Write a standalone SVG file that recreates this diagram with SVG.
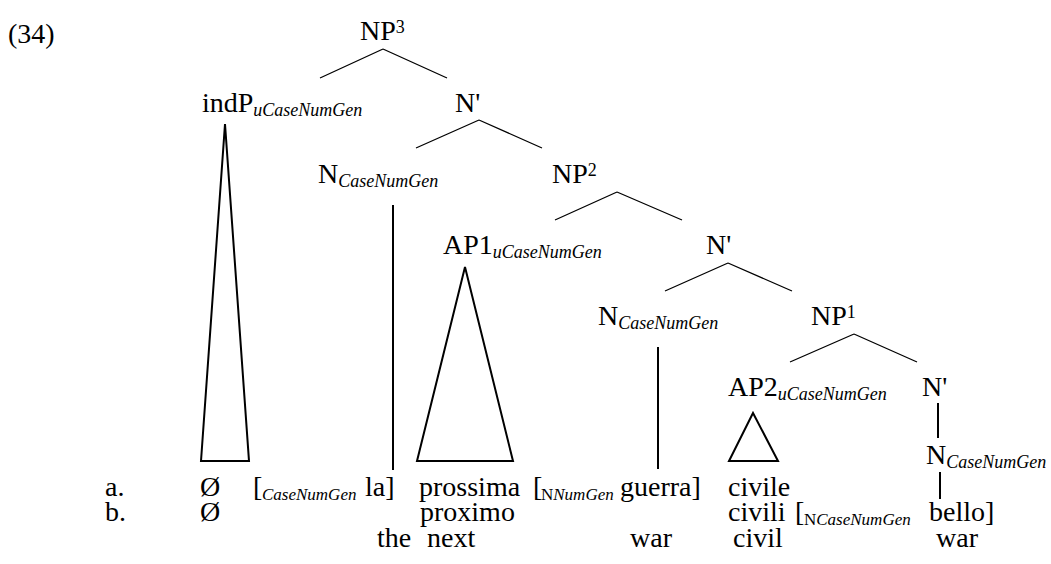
<svg xmlns="http://www.w3.org/2000/svg" width="1051" height="564" viewBox="0 0 1051 564">
<style>
text{font-family:"Liberation Serif","Times New Roman",serif;font-size:28px;fill:#000}
.sub{font-size:18px;font-style:italic}
.rs{font-size:17px;font-style:italic}
.rsu{font-size:17px;font-style:normal}
.sup{font-size:18px}
.br{stroke:#000;stroke-width:1.3;fill:none}
.vl{stroke:#000;stroke-width:2;fill:none}
.tri{stroke:#000;stroke-width:2;fill:none;stroke-linejoin:miter}
</style>
<rect width="1051" height="564" fill="#fff"/>
<g id="connectors">
<path class="br" d="M383,49 L320,78 M383,49 L447,78"/>
<path class="br" d="M479,120 L416,148 M479,120 L542,148"/>
<path class="br" d="M617,192 L555,220 M617,192 L682,220"/>
<path class="br" d="M728,263 L665,291 M728,263 L792,291"/>
<path class="br" d="M854,334 L790,362 M854,334 L917,362"/>
<line class="vl" x1="393" y1="205" x2="393" y2="470"/>
<line class="vl" x1="658" y1="347" x2="658" y2="469"/>
<line class="vl" x1="938" y1="403" x2="938" y2="438"/>
<line class="vl" x1="940" y1="472" x2="940" y2="499"/>
<polygon class="tri" points="225,124 201,461 249,461"/>
<polygon class="tri" points="465,267 417,461 513,461"/>
<polygon class="tri" points="753,413 729,461 778,461"/>
</g>
<g id="ex-number"><text x="8" y="43">(34)</text></g>
<g id="NP3"><text x="360" y="40">NP<tspan class="sup" dy="-7">3</tspan></text></g>
<g id="indP"><text x="202" y="112">indP<tspan class="sub" dy="4">uCaseNumGen</tspan></text></g>
<g id="Nbar1"><text x="455" y="112">N'</text></g>
<g id="N1"><text x="318" y="183">N<tspan class="sub" dy="4">CaseNumGen</tspan></text></g>
<g id="NP2"><text x="552" y="183">NP<tspan class="sup" dy="-7">2</tspan></text></g>
<g id="AP1"><text x="443" y="254">AP1<tspan class="sub" dy="4">uCaseNumGen</tspan></text></g>
<g id="Nbar2"><text x="706" y="254">N'</text></g>
<g id="N2"><text x="598" y="325">N<tspan class="sub" dy="4">CaseNumGen</tspan></text></g>
<g id="NP1"><text x="811" y="325">NP<tspan class="sup" dy="-7">1</tspan></text></g>
<g id="AP2"><text x="728" y="396">AP2<tspan class="sub" dy="4">uCaseNumGen</tspan></text></g>
<g id="Nbar3"><text x="922" y="396">N'</text></g>
<g id="N3"><text x="926" y="464">N<tspan class="sub" dy="4">CaseNumGen</tspan></text></g>
<g id="row-a">
<text x="105" y="496">a.</text>
<text x="200" y="496">Ø</text>
<text x="253" y="496">[</text>
<text class="rs" x="262" y="500">CaseNumGen</text>
<text x="365" y="496">la]</text>
<text x="419" y="496">prossima</text>
<text x="533" y="496">[</text>
<text x="541" y="500"><tspan class="rsu">N</tspan><tspan class="rs">NumGen</tspan></text>
<text x="620" y="496">guerra]</text>
<text x="728" y="496">civile</text>
</g>
<g id="row-b">
<text x="105" y="521">b.</text>
<text x="200" y="521">Ø</text>
<text x="420" y="521">proximo</text>
<text x="728" y="521">civili</text>
<text x="795" y="521">[</text>
<text x="804" y="525"><tspan class="rsu">N</tspan><tspan class="rs">CaseNumGen</tspan></text>
<text x="929" y="521">bello]</text>
</g>
<g id="gloss">
<text x="377" y="547">the</text>
<text x="427" y="547">next</text>
<text x="630" y="547">war</text>
<text x="733" y="547">civil</text>
<text x="936" y="547">war</text>
</g>
</svg>
